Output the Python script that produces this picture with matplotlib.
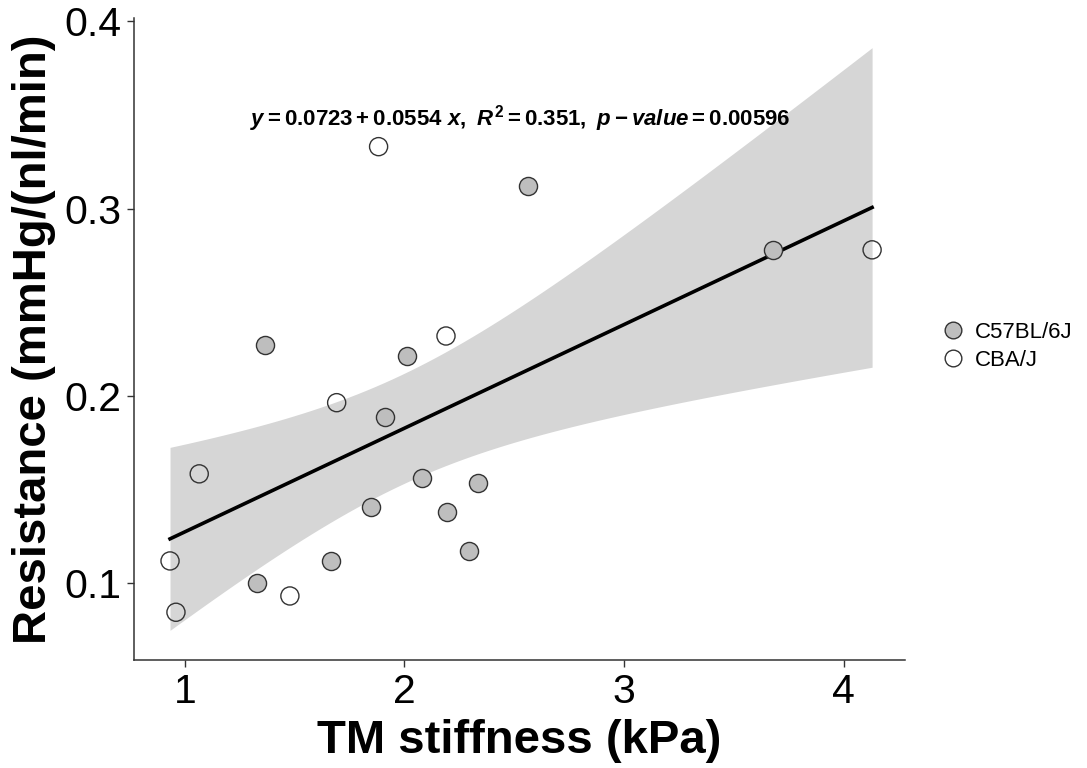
import numpy as np
import matplotlib
matplotlib.use("Agg")
import matplotlib.pyplot as plt
from matplotlib.lines import Line2D

plt.rcParams["font.family"] = ["Liberation Sans", "DejaVu Sans"]
plt.rcParams["mathtext.fontset"] = "custom"
plt.rcParams["mathtext.rm"] = "Liberation Sans:bold"
plt.rcParams["mathtext.it"] = "Liberation Sans:italic:bold"
plt.rcParams["mathtext.bf"] = "Liberation Sans:bold"

# TM stiffness (kPa) and outflow resistance
c57_stiff = [1.327, 1.664, 1.849, 1.911, 2.081, 2.192, 2.336, 2.295, 1.363, 2.013, 2.561, 3.680]
c57_resist = [0.1000, 0.1119, 0.1409, 0.1889, 0.1561, 0.1382, 0.1537, 0.1172, 0.2272, 0.2215, 0.3123, 0.2780]
cba_stiff = [0.932, 0.959, 1.065, 1.478, 1.691, 1.882, 2.189, 4.130]
cba_resist = [0.1119, 0.0845, 0.1584, 0.0932, 0.1964, 0.3331, 0.2320, 0.2780]
strains = ["C57BL/6J", "CBA/J"]
x_ticks = [1, 2, 3, 4]
y_ticks = [0.1, 0.2, 0.3, 0.4]
annot = r"$y = 0.0723 + 0.0554\ x,\ R^{2} = 0.351,\ p - value = 0.00596$"

GREY_FILL, EDGE, RIBBON = "#bebebe", "#333333", "#d6d6d6"

# linear fit + 95% confidence band (like geom_smooth(method = "lm"))
x = np.array(c57_stiff + cba_stiff)
y = np.array(c57_resist + cba_resist)
n = len(x)
slope, icpt = np.polyfit(x, y, 1)
resid = y - (icpt + slope * x)
s = np.sqrt(np.sum(resid**2) / (n - 2))
t975 = 2.1009  # t quantile, df = 18
grid = np.linspace(x.min(), x.max(), 80)
fit = icpt + slope * grid
se = s * np.sqrt(1 / n + (grid - x.mean())**2 / np.sum((x - x.mean())**2))

fig = plt.figure(figsize=(10.87, 7.68), dpi=100)
ax = fig.add_axes([0.1233, 0.1406, 0.7093, 0.836])

ax.fill_between(grid, fit - t975 * se, fit + t975 * se, color=RIBBON, lw=0, zorder=1)
ax.plot(grid, fit, color="black", lw=2.6, zorder=2)
ax.scatter(c57_stiff, c57_resist, s=170, facecolor=GREY_FILL, edgecolor=EDGE, lw=1.0, zorder=3)
ax.scatter(cba_stiff, cba_resist, s=170, facecolor="none", edgecolor=EDGE, lw=1.0, zorder=3)

ax.text(2.526, 0.3483, annot, ha="center", va="center", fontsize=16, color="black")

ax.set_xlim(0.768, 4.28)
ax.set_ylim(0.059, 0.4018)
ax.set_xticks(x_ticks)
ax.set_xticklabels([str(v) for v in x_ticks])
ax.set_yticks(y_ticks)
ax.set_yticklabels([f"{v:.1f}" for v in y_ticks])
ax.tick_params(labelsize=29.5, length=5, width=1, color=EDGE, pad=4)
for side in ("top", "right"):
    ax.spines[side].set_visible(False)
for side in ("left", "bottom"):
    ax.spines[side].set_color(EDGE)
    ax.spines[side].set_linewidth(1.1)

ax.set_xlabel("TM stiffness (kPa)", fontsize=34, fontweight="bold", labelpad=6)
ax.set_ylabel("Resistance (mmHg/(nl/min)", fontsize=34, fontweight="bold", labelpad=6)

handles = [Line2D([], [], ls="none", marker="o", ms=12, mfc=GREY_FILL, mec=EDGE, mew=1.0),
           Line2D([], [], ls="none", marker="o", ms=12, mfc="white", mec=EDGE, mew=1.0)]
fig.legend(handles, strains, loc="center left", bbox_to_anchor=(0.8666, 0.549),
           frameon=False, fontsize=16, handletextpad=0.5, labelspacing=0.3,
           handlelength=1.0, borderaxespad=0, borderpad=0)

fig.savefig("out.png", dpi=100)
